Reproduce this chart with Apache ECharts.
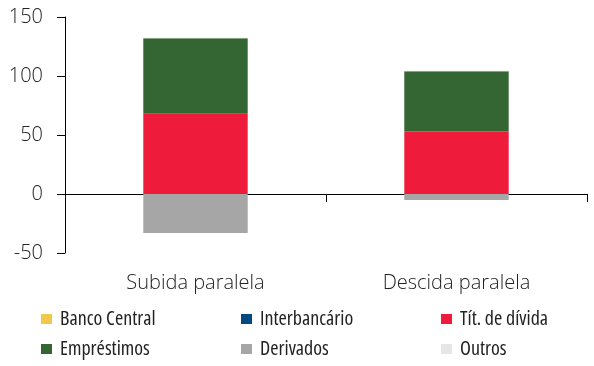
<!DOCTYPE html>
<html><head><meta charset="utf-8">
<script src="https://cdn.jsdelivr.net/npm/echarts@6/dist/echarts.min.js"></script>
<style>html,body{margin:0;padding:0;background:#fff}#c{width:594px;height:366px}</style>
</head><body><div id="c"></div>
<script>
const categories = ['Subida paralela', 'Descida paralela'];
const seriesNames = ['Banco Central', 'Interbancário', 'Tít. de dívida', 'Empréstimos', 'Derivados', 'Outros'];
const bancoCentral = [0, 0];
const interbancario = [0, 0];
const titDivida = [68, 53];
const emprestimos = [64, 51];
const derivados = [-33, -5];
const outros = [0.5, 0.5];
const yTicks = [-50, 0, 50, 100, 150];

const colors = ['#F2C84B', '#004A7F', '#EE1B3A', '#336633', '#A6A6A6', '#E6E6E6'];
const values = [bancoCentral, interbancario, titDivida, emprestimos, derivados, outros];
const FONT = '"Open Sans", sans-serif';

const chart = echarts.init(document.getElementById('c'));
const legendPos = [[41, 309], [241, 309], [441, 309], [41, 339], [241, 339], [441, 339]];
chart.setOption({
  animation: false,
  grid: {left: 65, right: 7, top: 17, bottom: 113},
  legend: seriesNames.map((n, i) => ({
    data: [n], left: legendPos[i][0], top: legendPos[i][1], padding: 0,
    itemWidth: 11, itemHeight: 10, icon: 'rect',
    textStyle: {fontFamily: FONT, fontSize: 20, fontWeight: 'condensed', color: '#222', padding: [0, 0, 0, 3]}
  })),
  xAxis: {
    type: 'category', data: categories,
    axisLine: {onZero: true, lineStyle: {color: '#000', width: 1}},
    axisTick: {show: true, length: 8, lineStyle: {color: '#000'}},
    axisLabel: {fontFamily: FONT, fontSize: 20, fontWeight: 300, color: '#222', margin: 20}
  },
  yAxis: {
    type: 'value', min: yTicks[0], max: yTicks[yTicks.length - 1], interval: 50,
    axisLine: {show: true, lineStyle: {color: '#000', width: 1}},
    axisTick: {show: true, length: 8, lineStyle: {color: '#000'}},
    splitLine: {show: false},
    axisLabel: {fontFamily: FONT, fontSize: 20, fontWeight: 300, color: '#222', margin: 22}
  },
  series: seriesNames.map((n, i) => ({
    name: n, type: 'bar', stack: 'a', data: values[i],
    barWidth: '40%', itemStyle: {color: colors[i]}
  }))
});
</script></body></html>
